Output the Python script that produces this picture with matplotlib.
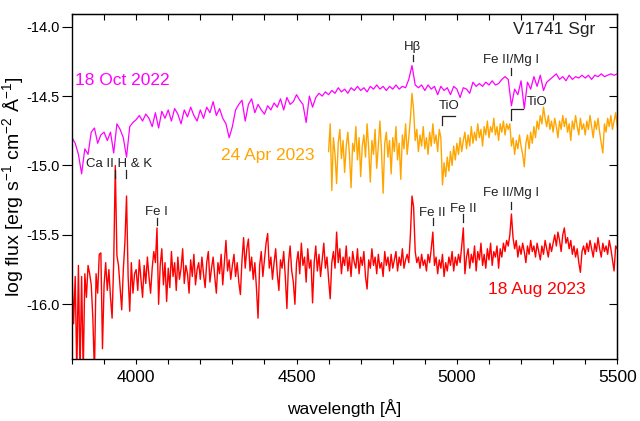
import numpy as np
import matplotlib
matplotlib.use("Agg")
import matplotlib.pyplot as plt

plt.rcParams['font.family'] = ['Liberation Sans', 'DejaVu Sans']
plt.rcParams['axes.unicode_minus'] = False
plt.rcParams['mathtext.fontset'] = 'custom'
plt.rcParams['mathtext.rm'] = 'Liberation Sans'
plt.rcParams['mathtext.it'] = 'Liberation Sans:italic'
plt.rcParams['mathtext.bf'] = 'Liberation Sans:bold'

# ---------------- data ----------------
# 18 Oct 2022 (step 10 A, 3800-5500)
wl_oct = np.arange(3800, 5501, 10)
flux_oct = [
    -14.80, -14.84, -14.92, -15.06, -14.88, -14.92, -14.76, -14.73, -14.84, -14.78,
    -14.76, -14.82, -14.76, -14.91, -14.70, -14.74, -14.80, -14.94, -14.72, -14.69,
    -14.67, -14.64, -14.68, -14.63, -14.66, -14.72, -14.62, -14.73, -14.61, -14.66,
    -14.60, -14.68, -14.59, -14.63, -14.70, -14.60, -14.65, -14.58, -14.64, -14.68,
    -14.60, -14.66, -14.58, -14.62, -14.54, -14.64, -14.59, -14.66, -14.70, -14.80,
    -14.72, -14.60, -14.56, -14.53, -14.68, -14.56, -14.52, -14.62, -14.56, -14.60,
    -14.63, -14.57, -14.60, -14.55, -14.58, -14.52, -14.60, -14.51, -14.56, -14.54,
    -14.49, -14.53, -14.56, -14.69, -14.50, -14.58, -14.51, -14.48, -14.50, -14.47,
    -14.49, -14.46, -14.48, -14.44, -14.47, -14.45, -14.48, -14.44, -14.46, -14.43,
    -14.46, -14.44, -14.47, -14.43, -14.45, -14.42, -14.45, -14.43, -14.46, -14.43,
    -14.45, -14.42, -14.45, -14.43, -14.44, -14.38, -14.28, -14.42, -14.44, -14.42,
    -14.46, -14.42, -14.45, -14.43, -14.49, -14.43, -14.46, -14.44, -14.49, -14.43,
    -14.45, -14.51, -14.44, -14.45, -14.48, -14.40, -14.43, -14.41, -14.43, -14.40,
    -14.42, -14.39, -14.42, -14.41, -14.38, -14.36, -14.38, -14.57, -14.45, -14.49,
    -14.39, -14.59, -14.40, -14.45, -14.36, -14.43, -14.35, -14.46, -14.40, -14.38,
    -14.36, -14.34, -14.38, -14.36, -14.39, -14.35, -14.38, -14.36, -14.37, -14.35,
    -14.37, -14.35, -14.38, -14.35, -14.36, -14.34, -14.36, -14.35, -14.34, -14.35,
    -14.34,
]

# 24 Apr 2023 (step 5 A, 4600-5500)
wl_apr = np.arange(4600, 5501, 5)
flux_apr = [
    -14.90, -14.70, -15.18, -14.80, -14.92, -15.13, -14.84, -14.74, -14.95, -14.82,
    -15.05, -14.86, -14.76, -14.92, -15.16, -14.84, -14.90, -14.72, -14.96, -14.80,
    -15.08, -14.86, -14.78, -14.94, -14.70, -14.88, -15.12, -14.82, -14.92, -14.74,
    -15.02, -14.86, -14.68, -14.90, -15.20, -14.84, -14.76, -14.94, -14.82, -15.06,
    -14.80, -14.90, -14.72, -14.96, -14.84, -15.10, -14.78, -14.88, -14.70, -14.92,
    -14.80, -14.66, -14.48, -14.60, -14.82, -14.74, -14.90, -14.78, -14.86, -14.72,
    -14.88, -14.80, -14.92, -14.76, -14.86, -14.70, -14.84, -14.78, -14.90, -14.74,
    -14.80, -15.14, -14.98, -15.08, -14.94, -15.04, -14.90, -15.00, -14.86, -14.96,
    -14.84, -14.92, -14.80, -14.90, -14.82, -14.76, -14.88, -14.78, -14.86, -14.72,
    -14.84, -14.76, -14.82, -14.70, -14.80, -14.74, -14.86, -14.72, -14.78, -14.68,
    -14.80, -14.72, -14.76, -14.66, -14.78, -14.72, -14.82, -14.70, -14.76, -14.68,
    -14.78, -14.70, -14.74, -14.70, -14.86, -14.80, -14.92, -14.82, -14.88, -14.78,
    -14.86, -14.92, -15.01, -14.84, -14.78, -14.88, -14.76, -14.84, -14.72, -14.80,
    -14.68, -14.74, -14.64, -14.70, -14.58, -14.66, -14.72, -14.64, -14.74, -14.68,
    -14.76, -14.66, -14.72, -14.80, -14.68, -14.74, -14.64, -14.72, -14.66, -14.76,
    -14.70, -14.82, -14.68, -14.74, -14.64, -14.72, -14.78, -14.66, -14.74, -14.70,
    -14.78, -14.68, -14.74, -14.64, -14.72, -14.80, -14.68, -14.74, -14.66, -14.76,
    -14.84, -14.91, -14.70, -14.76, -14.66, -14.72, -14.64, -14.74, -14.68, -14.62,
    -14.72,
]

# 18 Aug 2023 (step 5 A, 3800-5500)
wl_aug = np.arange(3800, 5501, 5)
flux_aug = [
    -15.76, -16.14, -15.80, -16.50, -15.72, -16.50, -15.80, -16.50, -15.78, -15.95,
    -15.72, -15.78, -15.86, -16.10, -16.50, -15.78, -15.92, -15.64, -15.63, -16.32,
    -15.86, -15.70, -15.90, -15.75, -15.95, -16.10, -15.70, -15.00, -15.65, -15.72,
    -15.88, -16.04, -15.75, -15.55, -15.22, -15.80, -16.05, -15.70, -15.92, -15.78,
    -15.75, -15.90, -15.68, -15.82, -15.95, -15.72, -15.85, -15.66, -15.80, -15.92,
    -15.74, -15.62, -15.70, -15.45, -16.00, -15.72, -15.60, -15.86, -15.70, -15.98,
    -15.74, -15.88, -15.62, -15.80, -15.70, -15.90, -15.66, -15.82, -15.74, -15.60,
    -15.85, -15.72, -15.78, -15.92, -15.68, -15.80, -15.64, -15.86, -15.75, -15.70,
    -15.82, -15.66, -15.78, -15.88, -15.70, -15.62, -15.84, -15.74, -15.66, -15.80,
    -15.92, -15.70, -15.78, -15.64, -15.86, -15.70, -15.54, -15.76, -15.68, -15.82,
    -15.72, -15.64, -15.80, -15.70, -15.84, -15.93, -15.68, -15.52, -15.74, -15.60,
    -15.53, -15.76, -15.66, -15.82, -15.70, -15.88, -16.10, -15.72, -15.62, -15.80,
    -15.68, -15.56, -15.49, -15.74, -15.66, -15.82, -15.70, -15.60, -15.78, -15.90,
    -15.68, -15.74, -15.62, -15.80, -16.03, -15.70, -15.58, -15.76, -15.84, -16.00,
    -15.70, -15.62, -15.78, -15.56, -15.72, -15.66, -15.84, -15.60, -15.74, -15.68,
    -15.99, -15.70, -15.58, -15.76, -15.64, -15.80, -15.68, -15.56, -15.74, -15.66,
    -15.82, -15.96, -15.70, -15.62, -15.74, -15.48, -15.70, -15.60, -15.78, -15.66,
    -15.72, -15.58, -15.76, -15.66, -15.80, -15.62, -15.70, -15.74, -15.60, -15.78,
    -15.66, -15.72, -15.62, -15.80, -15.89, -15.68, -15.74, -15.60, -15.72, -15.66,
    -15.78, -15.64, -15.74, -15.70, -15.80, -15.62, -15.72, -15.66, -15.76, -15.64,
    -15.74, -15.68, -15.62, -15.76, -15.66, -15.72, -15.60, -15.74, -15.68, -15.64,
    -15.70, -15.50, -15.22, -15.30, -15.62, -15.70, -15.66, -15.74, -15.64, -15.72,
    -15.68, -15.76, -15.64, -15.70, -15.60, -15.48, -15.72, -15.66, -15.78, -15.68,
    -15.74, -15.64, -15.80, -15.70, -15.76, -15.66, -15.72, -15.62, -15.76, -15.66,
    -15.72, -15.64, -15.70, -15.58, -15.45, -15.78, -15.66, -15.60, -15.74, -15.64,
    -15.70, -15.58, -15.76, -15.62, -15.68, -15.56, -15.72, -15.64, -15.74, -15.60,
    -15.68, -15.56, -15.72, -15.62, -15.66, -15.58, -15.74, -15.60, -15.66, -15.56,
    -15.62, -15.54, -15.58, -15.50, -15.35, -15.52, -15.60, -15.54, -15.66, -15.58,
    -15.64, -15.56, -15.62, -15.70, -15.58, -15.64, -15.54, -15.62, -15.58, -15.66,
    -15.56, -15.62, -15.68, -15.58, -15.64, -15.54, -15.60, -15.66, -15.56, -15.62,
    -15.56, -15.50, -15.58, -15.48, -15.54, -15.62, -15.50, -15.45, -15.56, -15.52,
    -15.60, -15.54, -15.64, -15.58, -15.66, -15.60, -15.70, -15.77, -15.62, -15.58,
    -15.64, -15.56, -15.62, -15.54, -15.60, -15.66, -15.56, -15.62, -15.52, -15.60,
    -15.66, -15.56, -15.62, -15.58, -15.64, -15.54, -15.60, -15.68, -15.76, -15.58,
    -15.60,
]

# line identifications: (label, wavelength of tick(s), text y, tick y0, tick y1)
lines_ids = [
    ("H\u03b2", [4862], -14.15, -14.205, -14.25),
    ("Fe II/Mg I", [5169], -14.24, -14.30, -14.35),
    ("Fe I", [4064], -15.335, -15.38, -15.43),
    ("Fe II", [4924], -15.34, -15.38, -15.43),
    ("Fe II", [5019], -15.31, -15.35, -15.41),
    ("Fe II/Mg I", [5169], -15.20, -15.26, -15.31),
]

# ---------------- figure ----------------
fig = plt.figure(figsize=(6.4, 4.21), dpi=100)
ax = fig.add_axes([0.1125, 0.147, 0.852, 0.82])

ax.plot(wl_oct, flux_oct, color='#ff00ff', lw=0.9)
ax.plot(wl_apr, flux_apr, color='#ffa500', lw=1.0)
ax.plot(wl_aug, flux_aug, color='#ff0000', lw=1.0)

ax.set_xlim(3800, 5500)
ax.set_ylim(-16.395, -13.908)

ax.set_xticks([4000, 4500, 5000, 5500])
ax.set_xticks(np.arange(3800, 5501, 100), minor=True)
ax.set_yticks([-16.0, -15.5, -15.0, -14.5, -14.0])
ax.set_yticklabels(['-16.0', '-15.5', '-15.0', '-14.5', '-14.0'])

for s in ax.spines.values():
    s.set_linewidth(1.0)

ax.tick_params(axis='x', which='both', direction='out', length=3.5, width=0.8,
               labelsize=12.5, pad=4)
ax.tick_params(axis='y', which='major', direction='out', length=7, width=0.8,
               labelsize=10.5, pad=2)

top = ax.secondary_xaxis('top')
top.set_xticks([4000, 4500, 5000, 5500])
top.set_xticks(np.arange(3800, 5501, 100), minor=True)
top.tick_params(axis='x', which='both', direction='in', length=4, width=0.8,
                labeltop=False)
right = ax.secondary_yaxis('right')
right.set_yticks([-16.0, -15.5, -15.0, -14.5, -14.0])
right.tick_params(axis='y', which='major', direction='in', length=6, width=0.8,
                  labelright=False)

ax.set_xlabel("wavelength [\u00c5]", fontsize=12.5)
ax.xaxis.set_label_coords(0.5, -0.115)
ax.set_ylabel("log flux [erg s$^{-1}$ cm$^{-2}$ \u00c5$^{-1}$]", fontsize=14)
ax.yaxis.set_label_coords(-0.085, 0.5)

# labels
ax.text(5432, -14.02, "V1741 Sgr", fontsize=12.5, ha='right', va='center', color='#222222')
ax.text(3808, -14.39, "18 Oct 2022", fontsize=12.5, ha='left', va='center', color='#ff00ff')
ax.text(4556, -14.93, "24 Apr 2023", fontsize=12.5, ha='right', va='center', color='#ffa500')
ax.text(5096, -15.894, "18 Aug 2023", fontsize=12.5, ha='left', va='center', color='#ff0000')

tcol = '#222222'
for lab, wls, ty, y0, y1 in lines_ids:
    ax.text(wls[0], ty, lab, fontsize=9.5, ha='center', va='center', color=tcol)
    for w in wls:
        ax.plot([w, w], [y0, y1], color=tcol, lw=0.9)

# Ca II H & K
ax.text(3845, -14.987, "Ca II H & K", fontsize=9.5, ha='left', va='center', color=tcol)
for w in [3933, 3968]:
    ax.plot([w, w], [-15.034, -15.092], color=tcol, lw=0.9)

# TiO bands
ax.text(4975, -14.57, "TiO", fontsize=9.5, ha='center', va='center', color=tcol)
ax.plot([4955, 4955, 4993], [-14.71, -14.64, -14.64], color=tcol, lw=0.9)
ax.text(5249, -14.544, "TiO", fontsize=9.5, ha='center', va='center', color=tcol)
ax.plot([5169, 5169, 5206], [-14.673, -14.594, -14.594], color=tcol, lw=0.9)

fig.savefig("out.png", dpi=100)
